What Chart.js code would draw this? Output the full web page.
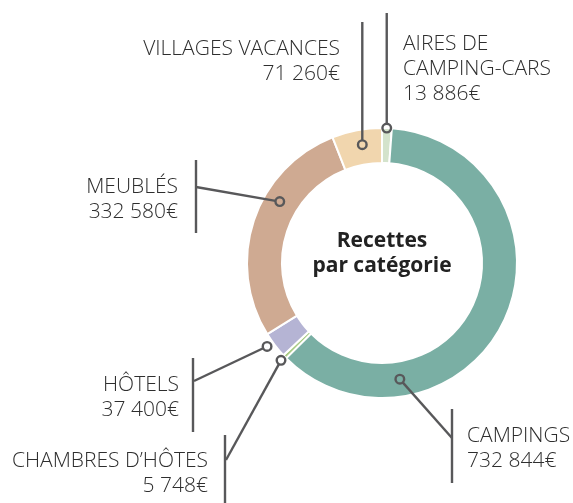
<!DOCTYPE html>
<html lang="fr">
<head>
<meta charset="utf-8">
<script src="https://cdn.jsdelivr.net/npm/chart.js@4.4.0/dist/chart.umd.min.js"></script>
<style>
  html, body { margin: 0; padding: 0; background: #fff; }
</style>
</head>
<body>
<canvas id="recettes" width="573" height="503"></canvas>
<script>
// Recettes par catégorie (€)
const categories = [['AIRES DE', 'CAMPING-CARS'], ['CAMPINGS'], ['CHAMBRES D’HÔTES'], ['HÔTELS'], ['MEUBLÉS'], ['VILLAGES VACANCES']];
const recettes = [13886, 732844, 5748, 37400, 332580, 71260];
const couleurs = ['#d4e3cc', '#7aafa4', '#a9cb83', '#b5b4d4', '#cfaa92', '#f1d6ae'];
const centerTitle = ['Recettes', 'par catégorie'];

// placement des étiquettes : t = position le long de la part, rf = position dans l'anneau
const callouts = [
    { t: 0.48, rf: 1.0, elbow: { y: 13 }, text: { x: 403, y: 50, align: 'left' } },
    { t: 0.756, rf: 0.5, elbow: { x: 452, y: 438 }, bar: { x: 452, y1: 409, y2: 483 }, text: { x: 467, y: 442, align: 'left' } },
    { t: 0.5, rf: 1.15, elbow: { x: 226, y: 460 }, bar: { x: 225, y1: 435, y2: 503 }, text: { x: 208, y: 467, align: 'right' } },
    { t: 0.63, rf: 1.2, elbow: { x: 194, y: 381 }, bar: { x: 193, y1: 358, y2: 432 }, text: { x: 179, y: 391, align: 'right' } },
    { t: 0.626, rf: 0.55, elbow: { x: 196, y: 187 }, bar: { x: 196, y1: 160, y2: 233 }, text: { x: 178, y: 193, align: 'right' } },
    { t: 0.56, rf: 0.57, elbow: { y: 22 }, text: { x: 340, y: 55, align: 'right' } }
];

const fmt = v => String(v).replace(/\B(?=(\d{3})+(?!\d))/g, ' ') + '€';

const calloutPlugin = {
    id: 'callouts',
    afterDatasetsDraw(chart) {
        const ctx = chart.ctx;
        const arcs = chart.getDatasetMeta(0).data;
        ctx.save();
        ctx.strokeStyle = '#58585a';
        ctx.lineWidth = 2.4;
        arcs.forEach((arc, i) => {
            const c = callouts[i];
            const p = arc.getProps(['x', 'y', 'startAngle', 'endAngle', 'innerRadius', 'outerRadius'], true);
            const a = p.startAngle + c.t * (p.endAngle - p.startAngle);
            const r = p.innerRadius + c.rf * (p.outerRadius - p.innerRadius);
            const mx = p.x + r * Math.cos(a);
            const my = p.y + r * Math.sin(a);
            const ex = c.elbow.x ?? mx;
            const ey = c.elbow.y;
            const ang = Math.atan2(ey - my, ex - mx);
            const mr = 4.3;

            ctx.beginPath();
            ctx.moveTo(mx + mr * Math.cos(ang), my + mr * Math.sin(ang));
            ctx.lineTo(ex, ey);
            ctx.stroke();
            ctx.beginPath();
            ctx.arc(mx, my, mr, 0, Math.PI * 2);
            ctx.stroke();

            if (c.bar) {
                ctx.beginPath();
                ctx.moveTo(c.bar.x, c.bar.y1);
                ctx.lineTo(c.bar.x, c.bar.y2);
                ctx.stroke();
            }

            const lines = chart.data.labels[i].concat([fmt(chart.data.datasets[0].data[i])]);
            ctx.fillStyle = '#2e2e2e';
            ctx.font = '300 21px "Open Sans", sans-serif';
            ctx.textAlign = c.text.align;
            ctx.textBaseline = 'alphabetic';
            lines.forEach((l, k) => ctx.fillText(l, c.text.x, c.text.y + k * 25));
        });

        // titre au centre
        const m = arcs[0];
        ctx.fillStyle = '#222';
        ctx.font = '700 21px "Open Sans", sans-serif';
        ctx.textAlign = 'center';
        ctx.fillText(centerTitle[0], m.x, m.y - 16);
        ctx.fillText(centerTitle[1], m.x, m.y + 9);
        ctx.restore();
    }
};

new Chart(document.getElementById('recettes'), {
    type: 'doughnut',
    data: {
        labels: categories,
        datasets: [{
            data: recettes,
            backgroundColor: couleurs,
            borderColor: '#fff',
            borderWidth: 2
        }]
    },
    options: {
        responsive: false,
        animation: false,
        radius: 135,
        cutout: '74.1%',
        layout: { padding: { left: 191, top: 23, right: 0, bottom: 0 } },
        plugins: {
            legend: { display: false },
            tooltip: { enabled: false }
        }
    },
    plugins: [calloutPlugin]
});
</script>
</body>
</html>
